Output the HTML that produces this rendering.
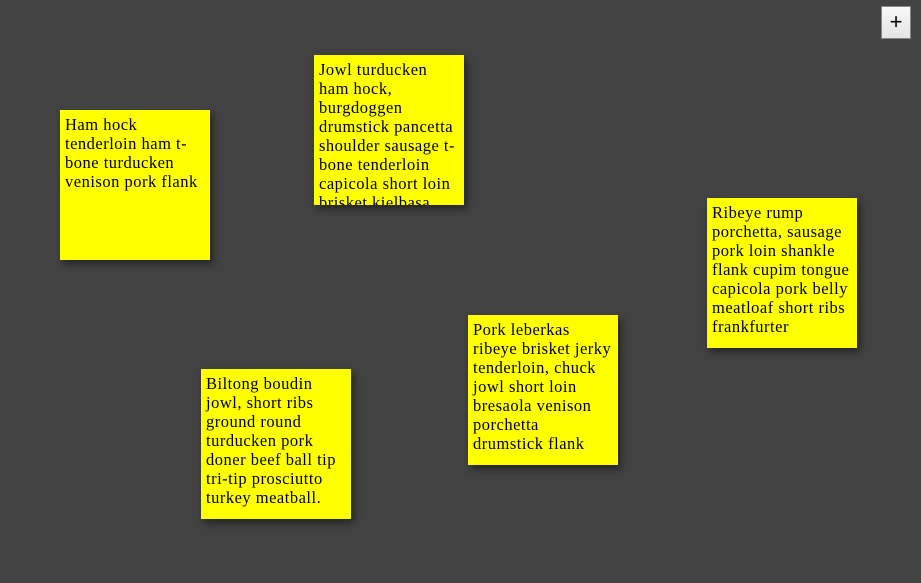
<!DOCTYPE html>
<html><head><style>
body{margin:0;width:921px;height:583px;background:#424242;position:relative;overflow:hidden;font-family:"Liberation Serif",serif;}
.n{position:absolute;width:150px;height:150px;background:#ffff00;box-shadow:3px 4px 7px rgba(0,0,0,.45);box-sizing:border-box;padding:5px 5px;font-size:16.5px;letter-spacing:0.5px;line-height:19px;color:#000;overflow:hidden;white-space:nowrap;}
.b{position:absolute;left:881px;top:6px;width:30px;height:33px;box-sizing:border-box;border:1px solid #888;background:linear-gradient(#f8f8f8,#e4e4e4);font:22px "Liberation Sans",sans-serif;text-align:center;line-height:30px;color:#000;}
</style></head><body>
<div class="b">+</div>
<div class="n" style="left:60px;top:110px">Ham hock<br>tenderloin ham t-<br>bone turducken<br>venison pork flank</div>
<div class="n" style="left:314px;top:55px">Jowl turducken<br>ham hock,<br>burgdoggen<br>drumstick pancetta<br>shoulder sausage t-<br>bone tenderloin<br>capicola short loin<br>brisket kielbasa</div>
<div class="n" style="left:707px;top:198px">Ribeye rump<br>porchetta, sausage<br>pork loin shankle<br>flank cupim tongue<br>capicola pork belly<br>meatloaf short ribs<br>frankfurter</div>
<div class="n" style="left:468px;top:315px">Pork leberkas<br>ribeye brisket jerky<br>tenderloin, chuck<br>jowl short loin<br>bresaola venison<br>porchetta<br>drumstick flank</div>
<div class="n" style="left:201px;top:369px">Biltong boudin<br>jowl, short ribs<br>ground round<br>turducken pork<br>doner beef ball tip<br>tri-tip prosciutto<br>turkey meatball.</div>
</body></html>
